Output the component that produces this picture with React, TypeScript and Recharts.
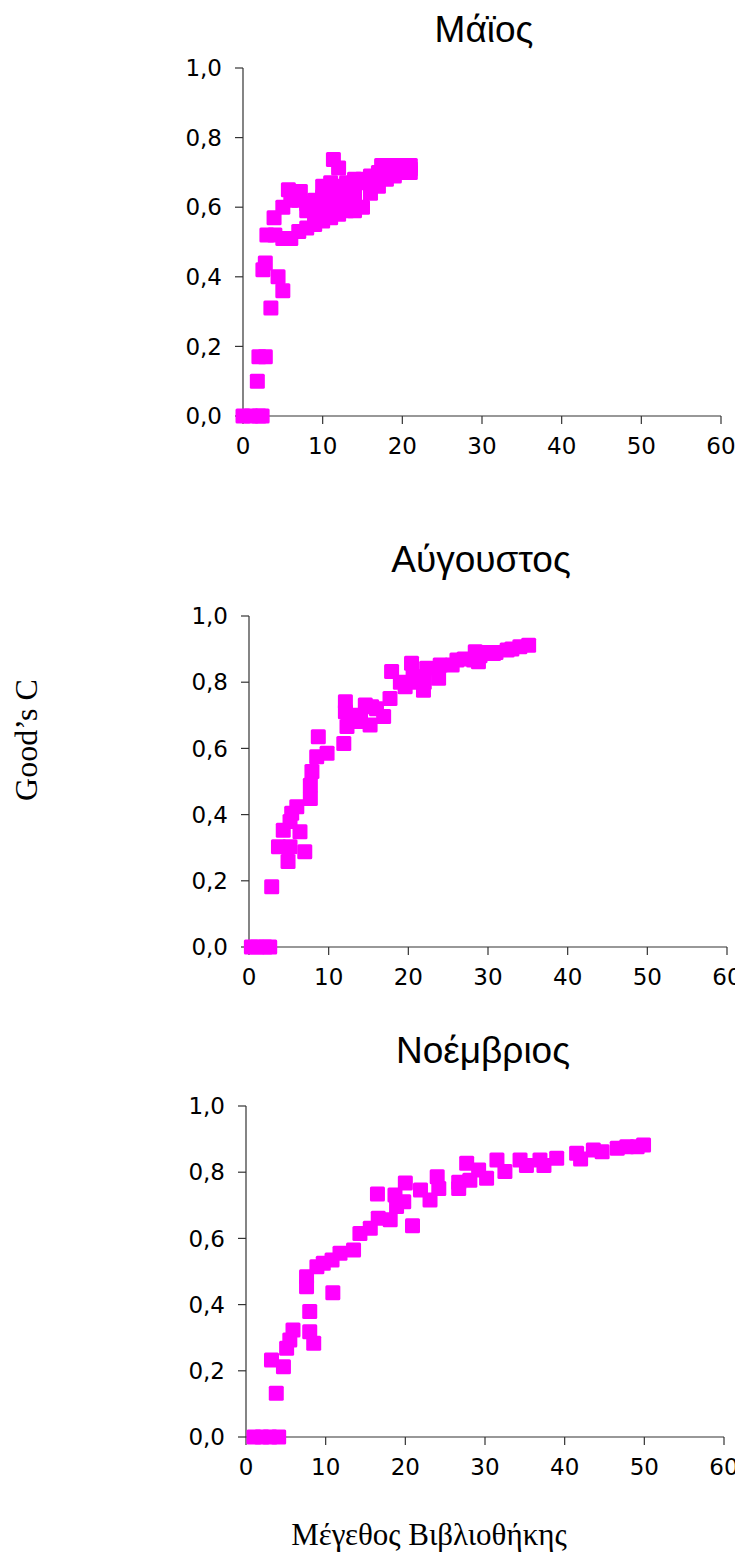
import React from 'react';
import { ScatterChart, Scatter, XAxis, YAxis } from 'recharts';

const xTicks = [0, 10, 20, 30, 40, 50, 60];
const yTicks = [0, 0.2, 0.4, 0.6, 0.8, 1.0];
const titles = ['Μάϊος', 'Αύγουστος', 'Νοέμβριος'];
const yLabel = 'Good’s C';
const xLabel = 'Μέγεθος Βιβλιοθήκης';

const mayX = [0, 1, 2, 2.4, 1.8, 2.0, 2.8, 2.8, 2.5, 3.5, 4.4, 5.0,
  3, 4, 5, 6, 7, 8, 9, 10, 11, 12, 13, 14,
  3.9, 5, 6, 7, 8,
  5.7, 7.2, 7, 9, 10, 11, 12, 13, 14, 15, 16, 17, 18, 19, 20, 21,
  10, 11, 12, 13, 14, 15, 16, 17, 18, 19, 20, 21, 17.4, 18.5,
  11.35, 12.0, 10, 11, 12, 13, 14, 15, 16, 17, 18, 19, 20, 21, 9, 8];
const mayY = [0, 0, 0, 0, 0.10, 0.17, 0.17, 0.44, 0.42, 0.31, 0.40, 0.36,
  0.52, 0.52, 0.51, 0.51, 0.53, 0.54, 0.55, 0.56, 0.57, 0.58, 0.59, 0.59,
  0.57, 0.60, 0.62, 0.62, 0.61,
  0.65, 0.645, 0.64, 0.62, 0.63, 0.64, 0.62, 0.64, 0.66, 0.67, 0.67, 0.68, 0.69, 0.70, 0.71, 0.71,
  0.66, 0.67, 0.66, 0.67, 0.68, 0.68, 0.69, 0.70, 0.71, 0.72, 0.72, 0.72, 0.72, 0.72,
  0.737, 0.713, 0.60, 0.61, 0.60, 0.61, 0.63, 0.60, 0.64, 0.66, 0.68, 0.69, 0.70, 0.70, 0.58, 0.59];

const augX = [0.3, 1, 2, 2.6, 2.85, 3.7, 4.9, 5.15, 7.0, 4.3, 5.15, 5.36, 6.0, 6.4,
  7.7, 7.7, 7.9, 8.5, 9.8, 8.7, 11.9, 12.1, 12.1, 12.3, 13.5, 14.6, 15.4, 15.2, 16.9,
  17.7, 17.9, 19.6, 20.4, 20.6, 21.9, 22.3, 23.8, 24, 25.5, 26.1, 28.2, 28.4, 28.8,
  30.7, 32.4, 34, 35.1, 13, 14, 16, 19, 21, 22, 27, 29, 31, 33, 30];
const augY = [0, 0, 0, 0, 0.182, 0.303, 0.258, 0.303, 0.288, 0.353, 0.379, 0.404, 0.424, 0.348,
  0.449, 0.489, 0.53, 0.575, 0.585, 0.635, 0.615, 0.741, 0.711, 0.666, 0.681, 0.731, 0.726, 0.671, 0.696,
  0.751, 0.832, 0.786, 0.857, 0.817, 0.776, 0.842, 0.812, 0.852, 0.852, 0.867, 0.867, 0.892, 0.862,
  0.887, 0.897, 0.907, 0.912, 0.70, 0.69, 0.72, 0.80, 0.80, 0.80, 0.87, 0.88, 0.89, 0.90, 0.89];

const novX = [1, 2, 3, 4.1, 3.8, 3.2, 4.7, 5.1, 5.5, 5.9, 8.0, 8.0, 8.5, 7.6, 7.6, 8.9, 9.7, 10.8,
  10.9, 11.8, 13.5, 14.3, 15.6, 16.5, 16.6, 18.1, 18.7, 18.9, 19.8, 20, 20.9, 21.9, 23.1, 24,
  24.2, 26.7, 26.7, 27.7, 28.1, 29.2, 30.2, 31.5, 32.5, 34.4, 35.2, 36.9, 37.4, 39, 41.5, 42,
  43.6, 44.7, 46.6, 47.8, 49.1, 49.9];
const novY = [0, 0, 0, 0, 0.132, 0.233, 0.212, 0.268, 0.293, 0.323, 0.379, 0.318, 0.283, 0.484, 0.454,
  0.514, 0.525, 0.535, 0.436, 0.555, 0.565, 0.615, 0.631, 0.734, 0.661, 0.656, 0.731, 0.696, 0.711,
  0.767, 0.638, 0.746, 0.716, 0.786, 0.751, 0.751, 0.77, 0.827, 0.776, 0.807, 0.782, 0.837, 0.802,
  0.837, 0.82, 0.837, 0.82, 0.842, 0.857, 0.84, 0.867, 0.862, 0.872, 0.877, 0.877, 0.882];

const toPoints = (xs: number[], ys: number[]) => xs.map((x, i) => ({ x, y: ys[i] }));
const mayData = toPoints(mayX, mayY);
const augData = toPoints(augX, augY);
const novData = toPoints(novX, novY);

const MAGENTA = '#FF00FF';
const AXIS = '#333333';

const Square = (props: any) => {
  const { cx, cy } = props;
  if (cx == null || cy == null) return null;
  return <rect x={cx - 7.5} y={cy - 7.5} width={15} height={15} rx={1.5} fill={MAGENTA} />;
};

const tickStyle = { fill: '#000', fontSize: 23, fontFamily: 'DejaVu Sans' };

function Panel({ left, top, plotH, data }: { left: number; top: number; plotH: number; data: any[] }) {
  const plotW = 478;
  const W = 80 + plotW + 40;
  const H = 20 + plotH + 50;
  return (
    <div style={{ position: 'absolute', left: left - 80, top: top - 20 }}>
      <ScatterChart width={W} height={H} margin={{ top: 20, right: 40, bottom: 0, left: 0 }}>
        <XAxis
          type="number"
          dataKey="x"
          domain={[0, 60]}
          ticks={xTicks}
          interval={0}
          height={50}
          tickSize={8}
          tickMargin={14}
          axisLine={{ stroke: AXIS, strokeWidth: 1.2 }}
          tickLine={{ stroke: AXIS, strokeWidth: 1.2 }}
          tick={tickStyle}
        />
        <YAxis
          type="number"
          dataKey="y"
          domain={[0, 1]}
          ticks={yTicks}
          interval={0}
          width={80}
          tickSize={8}
          tickMargin={13}
          axisLine={{ stroke: AXIS, strokeWidth: 1.2 }}
          tickLine={{ stroke: AXIS, strokeWidth: 1.2 }}
          tick={tickStyle}
          tickFormatter={(v: number) => v.toFixed(1).replace('.', ',')}
        />
        <Scatter data={data} fill={MAGENTA} shape={Square} isAnimationActive={false} />
      </ScatterChart>
    </div>
  );
}

export default function App() {
  return (
    <div style={{ position: 'absolute', left: 0, top: 0, width: 735, height: 1562, overflow: 'hidden', background: '#fff' }}>
      <Panel left={243} top={68} plotH={348} data={mayData} />
      <Panel left={249} top={616} plotH={331} data={augData} />
      <Panel left={246} top={1106} plotH={331} data={novData} />
      <svg width={735} height={1562} style={{ position: 'absolute', left: 0, top: 0, pointerEvents: 'none' }}>
        <text x={484} y={42} textAnchor="middle" fontFamily="Liberation Sans" fontSize={37} fill="#000">{titles[0]}</text>
        <text x={481} y={572} textAnchor="middle" fontFamily="Liberation Sans" fontSize={37} fill="#000">{titles[1]}</text>
        <text x={483} y={1063} textAnchor="middle" fontFamily="Liberation Sans" fontSize={37} fill="#000">{titles[2]}</text>
        <text transform="translate(37,740) rotate(-90)" textAnchor="middle" fontFamily="Liberation Serif" fontSize={32} fill="#000">{yLabel}</text>
        <text x={429} y={1545} textAnchor="middle" fontFamily="Liberation Serif" fontSize={31} fill="#000">{xLabel}</text>
      </svg>
    </div>
  );
}
